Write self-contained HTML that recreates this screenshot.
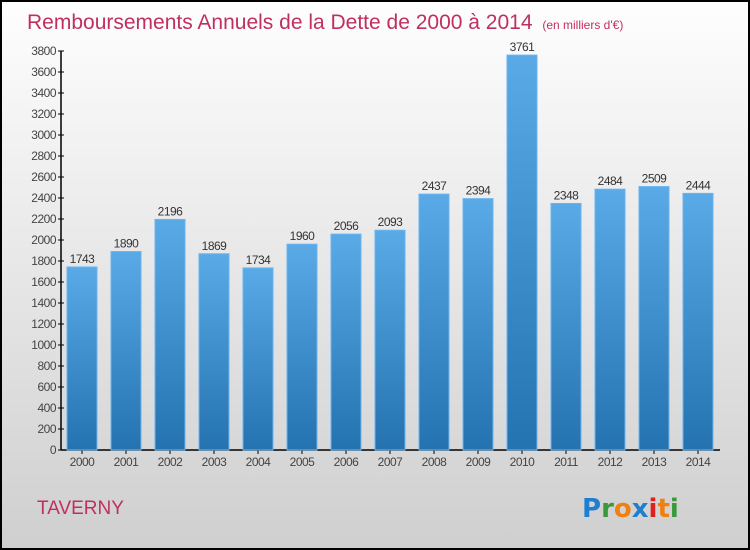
<!DOCTYPE html>
<html><head><meta charset="utf-8"><style>
body{margin:0;width:750px;height:550px;overflow:hidden}
svg{display:block;font-family:"Liberation Sans",sans-serif}
</style></head><body>
<svg width="750" height="550">
<defs>
<linearGradient id="bg" x1="0" y1="0" x2="0" y2="1"><stop offset="0" stop-color="#fefefe"/><stop offset="1" stop-color="#cfcfcf"/></linearGradient>
<linearGradient id="bar" x1="0" y1="0" x2="0" y2="1"><stop offset="0" stop-color="#5aaae8"/><stop offset="1" stop-color="#2473b0"/></linearGradient>
</defs>
<rect x="1" y="1" width="748" height="548" fill="url(#bg)" stroke="#000" stroke-width="2"/>
<text x="27" y="29" font-size="21" fill="#c0305e">Remboursements Annuels de la Dette de 2000 à 2014 <tspan font-size="12" dx="4">(en milliers d'€)</tspan></text>
<text x="37" y="514" font-size="19" fill="#c0305e">TAVERNY</text>
<g font-size="26" font-weight="bold" font-family="'DejaVu Sans',sans-serif">
<text x="582" y="517"><tspan fill="#1e7fd0">P</tspan><tspan fill="#3a9a3a">r</tspan><tspan fill="#f08010">o</tspan><tspan fill="#1e7fd0">x</tspan><tspan fill="#e02020">i</tspan><tspan fill="#f08010">t</tspan><tspan fill="#3a9a3a">i</tspan></text>
</g>
<g id="axes"></g>
<g id="bars"></g>
</svg>
<script>
const years=["2000","2001","2002","2003","2004","2005","2006","2007","2008","2009","2010","2011","2012","2013","2014"];
const values=[1743,1890,2196,1869,1734,1960,2056,2093,2437,2394,3761,2348,2484,2509,2444];
const ticks=[0,200,400,600,800,1000,1200,1400,1600,1800,2000,2200,2400,2600,2800,3000,3200,3400,3600,3800];
const NS="http://www.w3.org/2000/svg";
const y=v=>450-v*(399/3800);
const x=i=>82+i*44;
function mk(t,a,p){const e=document.createElementNS(NS,t);for(const k in a)e.setAttribute(k,a[k]);p.appendChild(e);return e;}
const ax=document.getElementById('axes'),bg=document.getElementById('bars');
let l=mk('line',{x1:61,y1:51,x2:61,y2:450,stroke:'#000','stroke-width':1.5},ax);


l=mk('line',{x1:61,y1:450,x2:720,y2:450,stroke:'#000','stroke-width':1.5},ax);


ticks.forEach(t=>{
 mk('line',{x1:58,x2:64,y1:y(t),y2:y(t),stroke:'#000'},ax);
 const e=mk('text',{x:56,y:y(t)+4,'text-anchor':'end','font-size':12,fill:'#444','letter-spacing':'-0.5'},ax);
 e.textContent=t;
 
 
});
years.forEach((yr,i)=>{
 mk('line',{x1:x(i),x2:x(i),y1:450,y2:454,stroke:'#000'},ax);
 const e=mk('text',{x:x(i),y:466,'text-anchor':'middle','font-size':12,fill:'#444','letter-spacing':'-0.5'},ax);
 e.textContent=yr;
 
 
 const v=values[i];
 const r=mk('rect',{x:x(i)-15,y:y(v),width:30,height:450-y(v),fill:'url(#bar)',stroke:'#6ab4ee','stroke-width':1},bg);
 
 
 const tl=mk('text',{x:x(i),y:y(v)-4,'text-anchor':'middle','font-size':12,fill:'#333','letter-spacing':'-0.5'},bg);
 tl.textContent=v;
 
 
});
</script>
</body></html>
